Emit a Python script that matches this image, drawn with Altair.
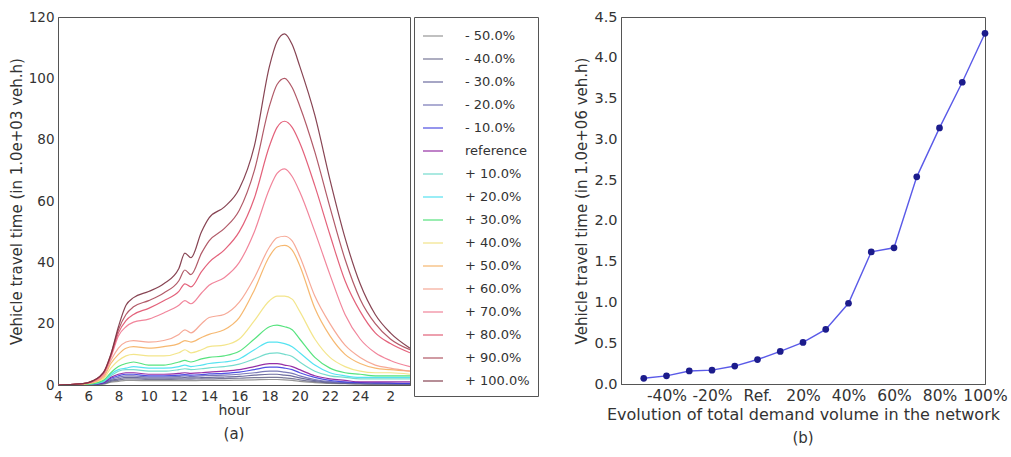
import altair as alt
import pandas as pd

# ---------------- left panel data ----------------
hours = [4, 5, 6, 7, 7.5, 8, 8.5, 9, 10, 11, 12, 12.4, 12.8, 13.5, 14, 15, 16, 17, 18, 18.5,
         19, 19.5, 20, 21, 22, 23, 24, 25, 26, 27.3]

labels = ["- 50.0%", "- 40.0%", "- 30.0%", "- 20.0%", "- 10.0%", "reference",
          "+ 10.0%", "+ 20.0%", "+ 30.0%", "+ 40.0%", "+ 50.0%", "+ 60.0%",
          "+ 70.0%", "+ 80.0%", "+ 90.0%", "+ 100.0%"]

colors = ["#8c8c8c", "#6a6a8c", "#5c5c94", "#6a6ab0", "#3c3ce0", "#8a1a9c",
          "#66d8c8", "#44e0f0", "#44e070", "#f2e27e", "#f5b060", "#f5a08c",
          "#f07890", "#e0506c", "#a84858", "#7a3040"]

widths = [1.2, 1.2, 1.2, 1.2, 1.2, 2.2, 1.2, 1.2, 1.5, 1.5, 1.8, 1.5, 1.2, 1.2, 1.2, 1.4]

m50 = [0, 0.02, 0.05, 0.3, 0.9, 1.2, 1.5, 1.5, 1.4, 1.4, 1.4, 1.4, 1.4, 1.5, 1.5, 1.5, 1.6, 1.7, 1.8, 1.8, 1.7, 1.5, 1.2, 0.8, 0.5, 0.4, 0.3, 0.3, 0.2, 0.2]
m40 = [0, 0.02, 0.08, 0.4, 1.2, 1.6, 2, 2, 1.8, 1.8, 1.9, 1.9, 1.9, 2, 2, 2.1, 2.2, 2.4, 2.5, 2.5, 2.3, 2.1, 1.7, 1.1, 0.7, 0.5, 0.4, 0.3, 0.3, 0.3]
m30 = [0, 0.03, 0.1, 0.5, 1.5, 2, 2.5, 2.5, 2.2, 2.2, 2.3, 2.4, 2.3, 2.4, 2.5, 2.6, 2.8, 3.2, 3.5, 3.5, 3.2, 2.9, 2.3, 1.4, 0.9, 0.6, 0.5, 0.4, 0.4, 0.3]
m20 = [0, 0.05, 0.1, 0.6, 1.8, 2.5, 3, 3, 2.6, 2.6, 2.8, 3, 2.8, 3, 3.1, 3.2, 3.5, 4, 4.5, 4.5, 4.2, 3.8, 3, 1.8, 1.1, 0.8, 0.6, 0.5, 0.5, 0.4]
m10 = [0, 0.05, 0.15, 0.7, 2.2, 3, 3.5, 3.5, 3, 3, 3.2, 3.4, 3.2, 3.4, 3.6, 3.8, 4.2, 5, 5.8, 5.8, 5.5, 5, 4, 2.5, 1.5, 1, 0.8, 0.7, 0.6, 0.5]
ref = [0, 0.05, 0.2, 0.8, 2.5, 3.5, 4, 4, 3.5, 3.5, 3.8, 4, 3.8, 4, 4.2, 4.5, 5, 6, 7, 7, 6.5, 6, 5, 3, 2, 1.5, 1, 1, 1, 1]
p10 = [0, 0.1, 0.2, 1, 3, 4.5, 5, 5, 4.5, 4.5, 5, 5.3, 5, 5.3, 5.6, 6, 6.8, 8.5, 10.3, 10.5, 10, 9.3, 7.5, 4.5, 3, 2.5, 2, 2, 2, 2]
p20 = [0, 0.1, 0.3, 1.2, 3.5, 5, 5.5, 6, 5.5, 5.5, 6, 6.5, 6, 6.5, 7, 7.5, 8.5, 11.5, 14, 14, 13.5, 12.5, 10.5, 6.5, 4, 3, 2.5, 2.5, 2.5, 2.5]
p30 = [0, 0.1, 0.3, 1.5, 4, 6, 7, 7.5, 6.5, 6.5, 7.5, 8, 7.5, 8.5, 9, 9.5, 11, 15, 19, 19.5, 19, 18, 15, 9, 5.5, 4, 3.5, 3, 3, 3]
p40 = [0, 0.1, 0.4, 2, 5.5, 8, 9.5, 10, 9.5, 9.5, 10.5, 11.5, 10.5, 11.5, 12.5, 13, 15, 21, 27.5, 29, 29, 28, 24, 15, 9, 6, 4.5, 4, 4, 3.5]
p50 = [0, 0.1, 0.5, 2.5, 7, 10, 12, 12.5, 12, 12.5, 13.5, 14.5, 14, 15.5, 16.5, 18, 22, 31, 42, 45, 45.5, 44, 39, 25, 16, 10, 7, 5.5, 5, 4.5]
p60 = [0, 0.2, 0.6, 3, 8, 12, 14, 14.5, 14, 14.5, 16.5, 18, 17, 20, 22, 23, 27, 35, 45, 48, 48.5, 47, 42, 29, 20, 13, 9, 6.5, 5.5, 4.5]
p70 = [0, 0.2, 0.7, 3.5, 9, 16, 19, 20.5, 21.5, 23.5, 26, 27.5, 26.5, 30, 32.5, 35, 40, 50, 64, 69, 70.5, 68, 63, 50, 36, 23, 15, 10.5, 8, 6]
p80 = [0, 0.2, 0.8, 3.8, 9.5, 17, 21, 23, 25, 27.5, 30.5, 33, 32, 37, 40, 44, 50, 61, 78, 84, 86, 84, 79, 65, 49, 34, 24, 17, 13.5, 10.5]
p90 = [0, 0.2, 0.8, 4, 10, 18, 23, 25.5, 27.5, 30, 34, 37.5, 36, 43, 47, 51, 57, 70, 91, 98, 100, 97, 91, 76, 58, 41, 28, 20, 15, 11.5]
p100 = [0, 0.2, 0.8, 4, 10, 19, 26, 28.5, 30.5, 33, 38, 43, 41.5, 50, 54.5, 58, 64, 78, 104, 112, 114.5, 111, 104, 88, 67, 48, 33, 23, 17, 12]

series = [m50, m40, m30, m20, m10, ref, p10, p20, p30, p40, p50, p60, p70, p80, p90, p100]

rows = []
for i, (lab, vals) in enumerate(zip(labels, series)):
    for h, v in zip(hours, vals):
        rows.append({"series": lab, "idx": i, "hour": h, "vtt": v})
df = pd.DataFrame(rows)

# ---------------- right panel data ----------------
demand = [-50, -40, -30, -20, -10, 0, 10, 20, 30, 40, 50, 60, 70, 80, 90, 100]
total_vtt = [0.07, 0.10, 0.16, 0.17, 0.22, 0.30, 0.40, 0.51, 0.67, 0.99, 1.62, 1.67, 2.54, 3.14, 3.70, 4.30]
df2 = pd.DataFrame({"demand": demand, "vtt": total_vtt})

FONT = "DejaVu Sans"

left = alt.Chart(df).mark_line(interpolate="monotone", clip=True, opacity=0.9).encode(
    x=alt.X("hour:Q", scale=alt.Scale(domain=[4, 27.3], nice=False, zero=False),
            axis=alt.Axis(values=[4, 6, 8, 10, 12, 14, 16, 18, 20, 22, 24, 26],
                          labelExpr="datum.value > 24 ? datum.value - 24 : datum.value",
                          title="hour", labelFlush=False, labelOverlap=False,
                          labelFontSize=13.5, titleFontSize=14, titlePadding=1)),
    y=alt.Y("vtt:Q", scale=alt.Scale(domain=[0, 120], nice=False),
            axis=alt.Axis(values=[0, 20, 40, 60, 80, 100, 120],
                          labelFontSize=13.5, titleFontSize=15,
                          title="Vehicle travel time (in 1.0e+03 veh.h)")),
    color=alt.Color("series:N", scale=alt.Scale(domain=labels, range=colors),
                    legend=alt.Legend(title=None, symbolType="stroke", symbolSize=400,
                                      symbolStrokeWidth=1.8, labelFontSize=13, labelFont=FONT,
                                      labelColor="#333", rowPadding=5, padding=8,
                                      strokeColor="#555", offset=4, labelOffset=21,
                                      orient="right")),
    strokeWidth=alt.StrokeWidth("series:N", scale=alt.Scale(domain=labels, range=widths), legend=None),
    order=alt.Order("idx:Q"),
).properties(width=352, height=368,
             title=alt.TitleParams("(a)", orient="bottom", anchor="middle", frame="group", offset=9))

base = alt.Chart(df2).encode(
    x=alt.X("demand:Q", scale=alt.Scale(domain=[-60, 100], nice=False, zero=False),
            axis=alt.Axis(values=[-40, -20, 0, 20, 40, 60, 80, 100],
                          labelExpr="datum.value == 0 ? 'Ref.' : datum.value + '%'",
                          title="Evolution of total demand volume in the network",
                          labelFlush=False, labelOverlap=False,
                          labelFontSize=15.5, titleFontSize=16, titlePadding=3)),
    y=alt.Y("vtt:Q", scale=alt.Scale(domain=[0, 4.5], nice=False),
            axis=alt.Axis(values=[0, 0.5, 1, 1.5, 2, 2.5, 3, 3.5, 4, 4.5], format=".1f",
                          labelFontSize=14.5, titleFontSize=15,
                          title="Vehicle travel time (in 1.0e+06 veh.h)")),
)
right = alt.layer(
    base.mark_line(color="#5a5ae8", strokeWidth=1.4),
    base.mark_circle(color="#1c1c8c", size=45, opacity=1),
).properties(width=364, height=367,
             title=alt.TitleParams("(b)", orient="bottom", anchor="middle", frame="group", offset=8))

chart = alt.hconcat(left, right, spacing=35).resolve_scale(
    color="independent", strokeWidth="independent"
).resolve_legend(
    color="independent", strokeWidth="independent"
).properties(
    padding={"left": 8, "top": 8, "right": 2, "bottom": 2}
).configure_axis(
    labelFont=FONT, titleFont=FONT,
    labelColor="#333", titleColor="#333", grid=False, ticks=False,
    titleFontWeight="normal", domainColor="#555", labelPadding=4
).configure_view(stroke="#555", strokeWidth=1).configure_title(
    font=FONT, fontSize=15, fontWeight="normal", color="#333"
)

chart.save("out.html", embed_options={"renderer": "svg", "actions": False})
